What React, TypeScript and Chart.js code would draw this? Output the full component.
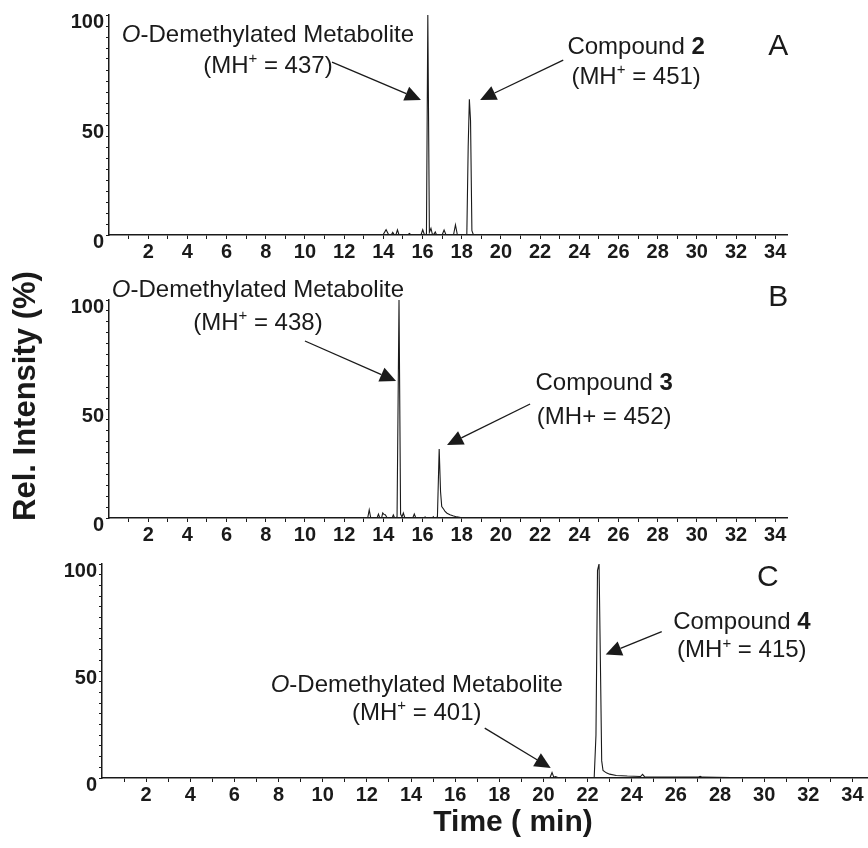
import React, { useEffect, useRef } from 'react';
import { Chart, registerables } from 'chart.js';

Chart.register(...registerables);

const FONT = '"Liberation Sans", Arial, Helvetica, sans-serif';
const INK = '#1a1a1a';

// ---- Panel A (retention time in min, relative intensity in %) ----
const timesA = [0, 13.98, 14.14, 14.28, 14.4, 14.48, 14.56, 14.64, 14.72, 14.8, 15.24, 15.33, 15.42, 15.92, 16.01, 16.1, 16.2, 16.27, 16.35, 16.43, 16.5, 16.58, 16.65, 16.72, 17.0, 17.1, 17.2, 17.58, 17.68, 17.78, 18.26, 18.33, 18.39, 18.45, 18.52, 18.6, 34.6];
const intensA = [0, 0, 2.4, 0, 0, 1.2, 0, 0, 2.3, 0, 0, 0.7, 0, 0, 2.4, 0, 0.4, 100, 1.2, 3, 0.4, 0.3, 1.4, 0, 0, 2.3, 0, 0, 4.6, 0, 0, 40, 61.7, 52, 2, 0, 0];

// ---- Panel B ----
const timesB = [0, 13.2, 13.28, 13.36, 13.68, 13.75, 13.82, 13.92, 13.97, 14.04, 14.1, 14.2, 14.45, 14.51, 14.58, 14.7, 14.8, 14.88, 14.95, 15.02, 15.1, 15.5, 15.58, 15.66, 16.08, 16.13, 16.18, 16.5, 16.55, 16.6, 16.76, 16.85, 16.92, 16.98, 17.08, 17.15, 17.25, 17.4, 17.55, 17.75, 17.95, 18.1, 34.6];
const intensB = [0, 0, 3.7, 0, 0, 1.8, 0, 0.4, 2.3, 1.6, 1.5, 0, 0, 1.4, 0, 0.4, 100, 1.8, 0.5, 2.3, 0, 0, 1.8, 0, 0, 0.5, 0, 0, 0.6, 0, 0.5, 31.7, 12, 5.3, 4, 3, 2.2, 1.5, 1, 0.5, 0.2, 0, 0];

// ---- Panel C ----
const timesC = [0, 20.3, 20.39, 20.47, 20.55, 20.65, 22.3, 22.38, 22.45, 22.52, 22.58, 22.64, 22.7, 22.85, 23.0, 23.3, 23.8, 24.4, 24.49, 24.58, 25.5, 26.5, 27.0, 27.1, 27.2, 28.5, 34.66];
const intensC = [0, 0.2, 2.6, 0.4, 0.7, 0.2, 0.2, 20, 97, 100, 55, 8, 3.5, 2.4, 1.8, 1.2, 0.9, 0.7, 1.7, 0.6, 0.5, 0.4, 0.4, 0.8, 0.4, 0.2, 0.2];

// ---- Tick labels ----
const xLabelValues = [2, 4, 6, 8, 10, 12, 14, 16, 18, 20, 22, 24, 26, 28, 30, 32, 34];
const yLabelValues = [0, 50, 100];
const xMinorStep = 1;
const yMinorStep = 5;

// ---- Annotations (positions in data units: min, %) ----
type Run = { t: string; s?: 'i' | 'b' | 'sup' };
type Note = { x: number; y: number; size: number; runs: Run[] };
type Arrow = { x0: number; y0: number; x1: number; y1: number };

const notesA: Note[] = [
  { x: 8.11, y: 90.9, size: 24, runs: [{ t: 'O', s: 'i' }, { t: '-Demethylated Metabolite' }] },
  { x: 8.11, y: 76.8, size: 24, runs: [{ t: '(MH' }, { t: '+', s: 'sup' }, { t: ' = 437)' }] },
  { x: 26.9, y: 85.5, size: 24, runs: [{ t: 'Compound ' }, { t: '2', s: 'b' }] },
  { x: 26.9, y: 71.8, size: 24, runs: [{ t: '(MH' }, { t: '+', s: 'sup' }, { t: ' = 451)' }] },
  { x: 34.15, y: 85.5, size: 30, runs: [{ t: 'A' }] },
];
const arrowsA: Arrow[] = [
  { x0: 11.38, y0: 78.6, x1: 15.92, y1: 61.4 },
  { x0: 23.18, y0: 79.5, x1: 18.94, y1: 61.4 },
];

const notesB: Note[] = [
  { x: 7.6, y: 104.6, size: 24, runs: [{ t: 'O', s: 'i' }, { t: '-Demethylated Metabolite' }] },
  { x: 7.6, y: 89.4, size: 24, runs: [{ t: '(MH' }, { t: '+', s: 'sup' }, { t: ' = 438)' }] },
  { x: 25.27, y: 61.9, size: 24, runs: [{ t: 'Compound ' }, { t: '3', s: 'b' }] },
  { x: 25.27, y: 46.3, size: 24, runs: [{ t: '(MH+ = 452)' }] },
  { x: 34.16, y: 100.9, size: 30, runs: [{ t: 'B' }] },
];
const arrowsB: Arrow[] = [
  { x0: 10.0, y0: 81.2, x1: 14.65, y1: 62.8 },
  { x0: 21.49, y0: 52.3, x1: 17.25, y1: 33.5 },
];

const notesC: Note[] = [
  { x: 14.26, y: 43.3, size: 24, runs: [{ t: 'O', s: 'i' }, { t: '-Demethylated Metabolite' }] },
  { x: 14.26, y: 30.2, size: 24, runs: [{ t: '(MH' }, { t: '+', s: 'sup' }, { t: ' = 401)' }] },
  { x: 28.99, y: 72.6, size: 24, runs: [{ t: 'Compound ' }, { t: '4', s: 'b' }] },
  { x: 28.99, y: 59.5, size: 24, runs: [{ t: '(MH' }, { t: '+', s: 'sup' }, { t: ' = 415)' }] },
  { x: 30.17, y: 93.5, size: 30, runs: [{ t: 'C' }] },
];
const arrowsC: Arrow[] = [
  { x0: 17.34, y0: 23.3, x1: 20.33, y1: 4.65 },
  { x0: 25.36, y0: 68.4, x1: 22.82, y1: 57.7 },
];

// ---- Layout (page pixels) ----
type Layout = { canvasTop: number; canvasH: number; left: number; right: number; top: number; bottom: number; xMax: number };
const layoutA: Layout = { canvasTop: 0, canvasH: 265, left: 109, right: 787, top: 15, bottom: 235, xMax: 34.6 };
const layoutB: Layout = { canvasTop: 270, canvasH: 278, left: 109, right: 787, top: 300, bottom: 518, xMax: 34.6 };
const layoutC: Layout = { canvasTop: 550, canvasH: 298, left: 102, right: 867, top: 563, bottom: 778, xMax: 34.66 };
const PAGE_W = 868;
const X_AXIS_H = 30;

function fontFor(r: Run, size: number) {
  if (r.s === 'i') return `italic ${size}px ${FONT}`;
  if (r.s === 'b') return `bold ${size}px ${FONT}`;
  if (r.s === 'sup') return `${Math.round(size * 0.62)}px ${FONT}`;
  return `${size}px ${FONT}`;
}

function makeAnnot(notes: Note[], arrows: Arrow[]) {
  return {
    id: 'annot',
    afterDatasetsDraw(chart: any) {
      const { ctx } = chart;
      const xs = chart.scales.x;
      const ys = chart.scales.y;
      ctx.save();
      ctx.fillStyle = INK;
      ctx.strokeStyle = INK;
      for (const a of arrows) {
        const x0 = xs.getPixelForValue(a.x0);
        const y0 = ys.getPixelForValue(a.y0);
        const x1 = xs.getPixelForValue(a.x1);
        const y1 = ys.getPixelForValue(a.y1);
        const ang = Math.atan2(y1 - y0, x1 - x0);
        const hl = 16;
        const hw = 7.5;
        const bx = x1 - hl * Math.cos(ang);
        const by = y1 - hl * Math.sin(ang);
        ctx.lineWidth = 1.3;
        ctx.beginPath();
        ctx.moveTo(x0, y0);
        ctx.lineTo(bx, by);
        ctx.stroke();
        ctx.beginPath();
        ctx.moveTo(x1, y1);
        ctx.lineTo(bx + hw * Math.sin(ang), by - hw * Math.cos(ang));
        ctx.lineTo(bx - hw * Math.sin(ang), by + hw * Math.cos(ang));
        ctx.closePath();
        ctx.fill();
      }
      ctx.textBaseline = 'middle';
      ctx.textAlign = 'left';
      for (const n of notes) {
        const widths = n.runs.map((r) => {
          ctx.font = fontFor(r, n.size);
          return ctx.measureText(r.t).width;
        });
        const total = widths.reduce((s, w) => s + w, 0);
        let cx = xs.getPixelForValue(n.x) - total / 2;
        const cy = ys.getPixelForValue(n.y);
        n.runs.forEach((r, i) => {
          ctx.font = fontFor(r, n.size);
          ctx.fillText(r.t, cx, r.s === 'sup' ? cy - n.size * 0.3 : cy);
          cx += widths[i];
        });
      }
      ctx.restore();
    },
  };
}

function buildConfig(times: number[], intens: number[], L: Layout, notes: Note[], arrows: Arrow[]): any {
  const points = times.map((t, i) => ({ x: t, y: intens[i] }));
  return {
    type: 'line',
    data: {
      datasets: [
        { data: points, borderColor: INK, borderWidth: 1.1, pointRadius: 0, tension: 0, fill: false },
      ],
    },
    options: {
      responsive: false,
      animation: false,
      events: [],
      layout: {
        padding: {
          left: 0,
          top: L.top - L.canvasTop,
          right: PAGE_W - L.right,
          bottom: L.canvasTop + L.canvasH - L.bottom - X_AXIS_H,
        },
      },
      plugins: { legend: { display: false }, tooltip: { enabled: false } },
      scales: {
        x: {
          type: 'linear',
          min: 0,
          max: L.xMax,
          position: 'bottom',
          afterBuildTicks: (s: any) => {
            const t: any[] = [];
            for (let v = xMinorStep; v <= L.xMax; v += xMinorStep) t.push({ value: v });
            s.ticks = t;
          },
          afterFit: (s: any) => {
            s.height = X_AXIS_H;
          },
          ticks: {
            autoSkip: false,
            maxRotation: 0,
            minRotation: 0,
            padding: 1,
            color: INK,
            font: { family: FONT, size: 20, weight: 'bold' },
            callback: (v: number) => (xLabelValues.includes(v) ? String(v) : ''),
          },
          grid: { drawOnChartArea: false, drawTicks: true, tickLength: 4, tickColor: INK, tickWidth: 1 },
          border: { display: true, color: INK, width: 1.5 },
        },
        y: {
          type: 'linear',
          min: 0,
          max: 100,
          position: 'left',
          afterBuildTicks: (s: any) => {
            const t: any[] = [];
            for (let v = 0; v <= 100; v += yMinorStep) t.push({ value: v });
            s.ticks = t;
          },
          afterFit: (s: any) => {
            s.width = L.left;
          },
          ticks: {
            autoSkip: false,
            padding: 2,
            labelOffset: 7,
            color: INK,
            font: { family: FONT, size: 20, weight: 'bold' },
            callback: (v: number) => (yLabelValues.includes(v) ? String(v) : ''),
          },
          grid: { drawOnChartArea: false, drawTicks: true, tickLength: 3, tickColor: INK, tickWidth: 1 },
          border: { display: true, color: INK, width: 1.5 },
        },
      },
    },
    plugins: [makeAnnot(notes, arrows)],
  };
}

export default function App() {
  const refA = useRef<HTMLCanvasElement>(null);
  const refB = useRef<HTMLCanvasElement>(null);
  const refC = useRef<HTMLCanvasElement>(null);

  useEffect(() => {
    const charts = [
      new Chart(refA.current as HTMLCanvasElement, buildConfig(timesA, intensA, layoutA, notesA, arrowsA)),
      new Chart(refB.current as HTMLCanvasElement, buildConfig(timesB, intensB, layoutB, notesB, arrowsB)),
      new Chart(refC.current as HTMLCanvasElement, buildConfig(timesC, intensC, layoutC, notesC, arrowsC)),
    ];
    return () => charts.forEach((c) => c.destroy());
  }, []);

  const canvasStyle = (L: Layout): React.CSSProperties => ({
    position: 'absolute',
    left: 0,
    top: L.canvasTop,
    width: PAGE_W,
    height: L.canvasH,
  });

  return (
    <div style={{ position: 'absolute', left: 0, top: 0, width: PAGE_W, height: 848, overflow: 'hidden', background: '#fff' }}>
      <canvas ref={refA} width={PAGE_W} height={layoutA.canvasH} style={canvasStyle(layoutA)} />
      <canvas ref={refB} width={PAGE_W} height={layoutB.canvasH} style={canvasStyle(layoutB)} />
      <canvas ref={refC} width={PAGE_W} height={layoutC.canvasH} style={canvasStyle(layoutC)} />
      <div
        style={{
          position: 'absolute',
          left: 27 - 160,
          top: 396 - 20,
          width: 320,
          height: 40,
          lineHeight: '40px',
          textAlign: 'center',
          transform: 'rotate(-90deg)',
          font: `bold 31px ${FONT}`,
          color: INK,
          whiteSpace: 'nowrap',
        }}
      >
        Rel. Intensity (%)
      </div>
      <div
        style={{
          position: 'absolute',
          left: 513 - 150,
          top: 824 - 20,
          width: 300,
          height: 40,
          lineHeight: '40px',
          textAlign: 'center',
          font: `bold 30px ${FONT}`,
          color: INK,
          whiteSpace: 'nowrap',
        }}
      >
        Time ( min)
      </div>
    </div>
  );
}
